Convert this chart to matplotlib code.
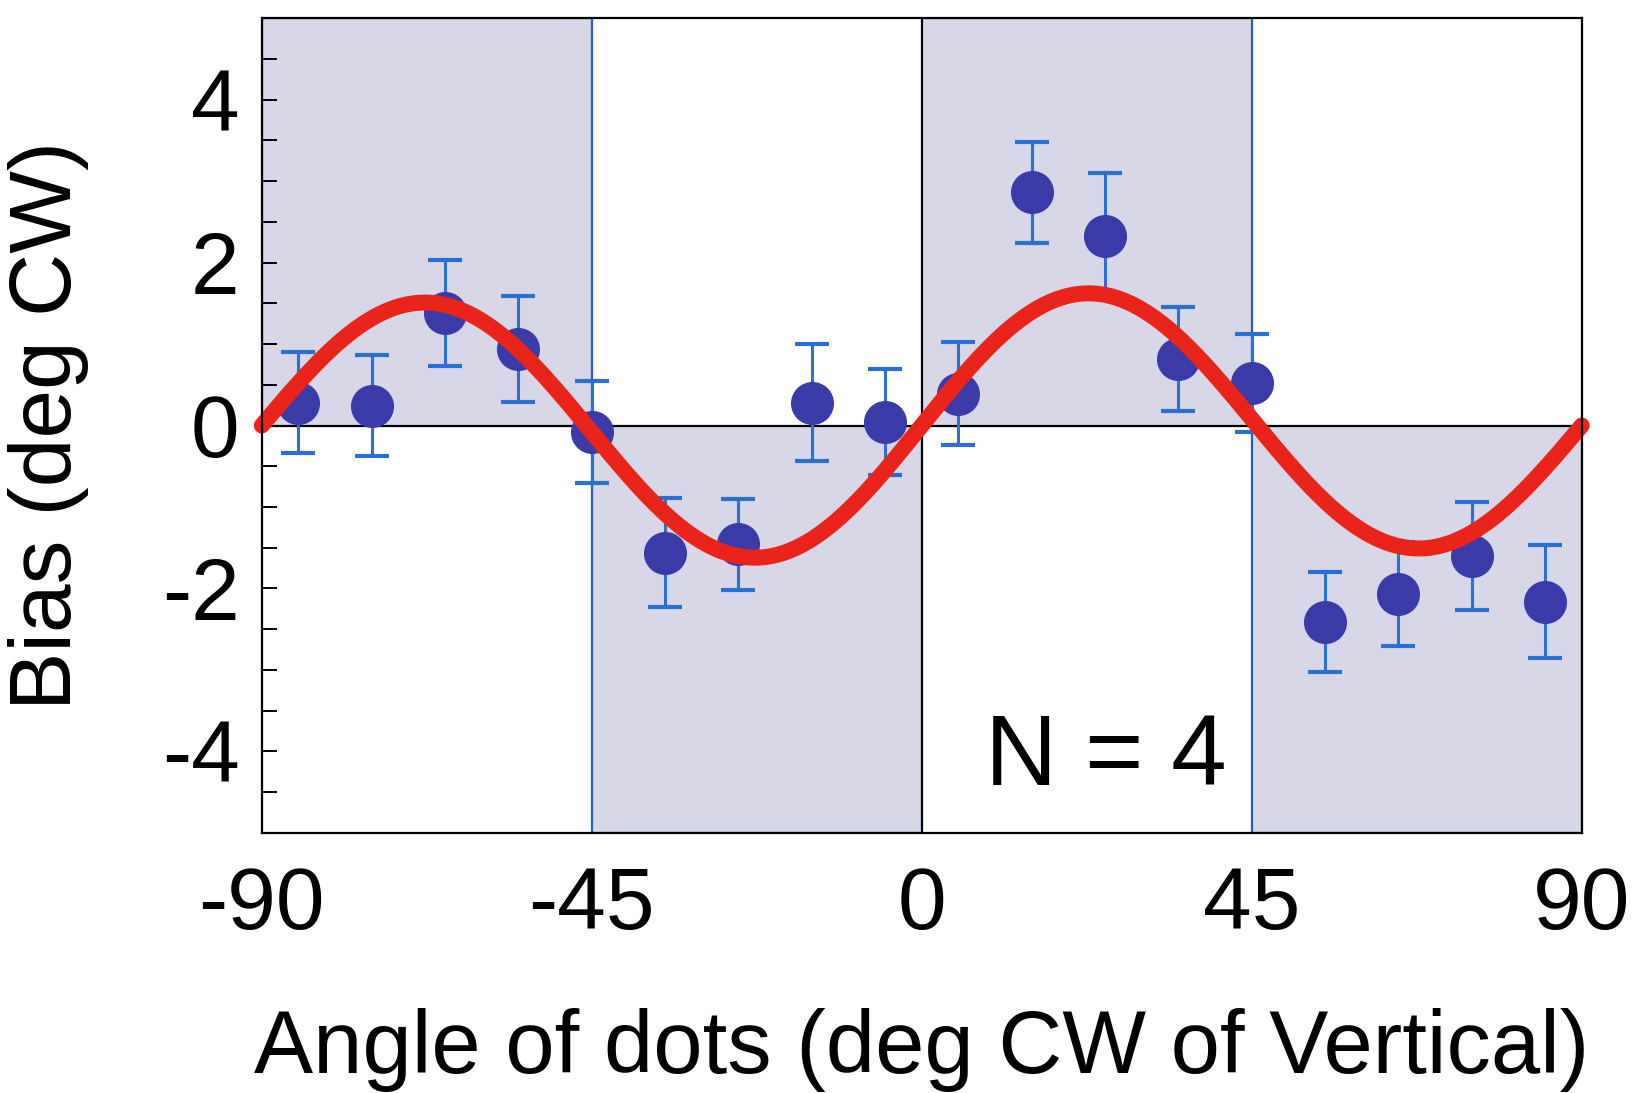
import numpy as np
import matplotlib
matplotlib.use("Agg")
import matplotlib.pyplot as plt
from matplotlib.patches import Rectangle

plt.rcParams['font.family'] = ['Liberation Sans', 'DejaVu Sans']
plt.rcParams['axes.unicode_minus'] = False

# Mean bias per dot-angle bin, with error bars
angles = [-85, -75, -65, -55, -45, -35, -25, -15, -5,
          5, 15, 25, 35, 45, 55, 65, 75, 85]
bias = [0.28, 0.24, 1.38, 0.94, -0.08, -1.56, -1.46, 0.28, 0.04,
        0.39, 2.86, 2.33, 0.82, 0.52, -2.41, -2.07, -1.60, -2.16]
bias_err = [0.62, 0.62, 0.65, 0.65, 0.63, 0.67, 0.56, 0.72, 0.65,
            0.63, 0.62, 0.77, 0.64, 0.60, 0.61, 0.64, 0.66, 0.69]

# Fitted model: A*sin(4*theta) + B*sin(2*theta)
fit_amp_4 = 1.565
fit_amp_2 = 0.08

# Shaded quadrants: (x start, x end, y start, y end)
shade_x0 = [-90, -45, 0, 45]
shade_x1 = [-45, 0, 45, 90]
shade_y0 = [0, -5, 0, -5]
shade_y1 = [5, 0, 5, 0]

x_ticks = [-90, -45, 0, 45, 90]
y_ticks = [-4, -2, 0, 2, 4]

fig = plt.figure(figsize=(16.32, 10.93), dpi=100)
ax = fig.add_axes([0.1604, 0.2379, 0.8088, 0.7456])

shade_col = '#d7d7e8'
edge_col = '#2a5cc0'
for x0, x1, y0, y1 in zip(shade_x0, shade_x1, shade_y0, shade_y1):
    ax.add_patch(Rectangle((x0, y0), x1 - x0, y1 - y0, facecolor=shade_col,
                           edgecolor=edge_col, linewidth=1.6, zorder=0))

ax.axhline(0, color='black', lw=1.5, zorder=1)
ax.axvline(0, color='black', lw=1.5, zorder=1)

ax.errorbar(angles, bias, yerr=bias_err, fmt='none', ecolor='#2b6fd0',
            elinewidth=2.2, capsize=12, capthick=3, zorder=2)
ax.plot(angles, bias, 'o', color='#3a3aa8', markersize=31,
        markeredgewidth=0, zorder=3)

theta = np.linspace(-90, 90, 721)
rad = np.deg2rad(theta)
model = fit_amp_4 * np.sin(4 * rad) + fit_amp_2 * np.sin(2 * rad)
ax.plot(theta, model, color='#ea2418', lw=11.5, solid_capstyle='round',
        zorder=4, clip_on=False)

ax.set_xlim(-90, 90)
ax.set_ylim(-5, 5)
ax.set_xticks(x_ticks)
ax.set_xticklabels([str(v) for v in x_ticks])
ax.set_yticks(y_ticks)
ax.set_yticklabels([str(v) for v in y_ticks])
ax.set_yticks(np.arange(-4.5, 5.0, 0.5), minor=True)

ax.tick_params(axis='x', length=0, pad=24, labelsize=63)
ax.tick_params(axis='y', which='both', direction='in', length=11,
               width=1.4, pad=16, labelsize=63)
ax.tick_params(axis='y', which='minor', labelleft=False)

for s in ax.spines.values():
    s.set_linewidth(1.6)
    s.set_color('black')
    s.set_zorder(5)

ax.text(8.6, -4.41, 'N = 4', fontsize=72, ha='left', va='baseline', zorder=6)

ax.set_xlabel('Angle of dots (deg CW of Vertical)', fontsize=63.8)
ax.xaxis.label.set_va('baseline')
ax.xaxis.set_label_coords(0.5, -0.2945)
ax.set_ylabel('Bias (deg CW)', fontsize=63)
ax.yaxis.set_label_coords(-0.131, 0.5)

fig.savefig('out.png', dpi=100)
